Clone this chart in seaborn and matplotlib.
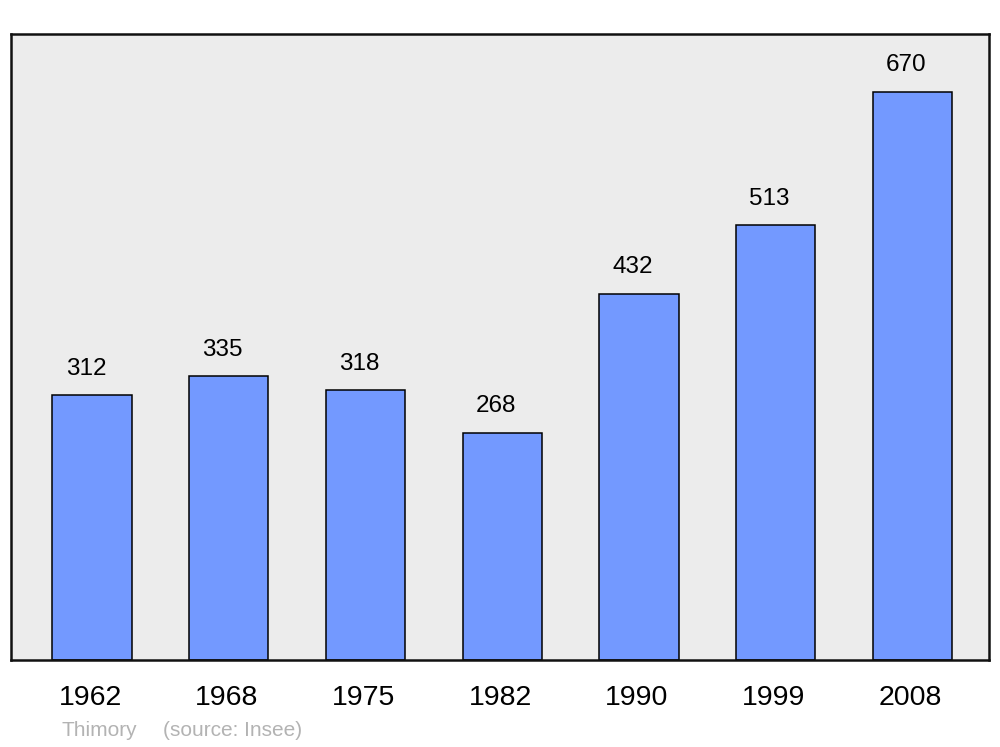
import pandas as pd
import matplotlib.pyplot as plt
import matplotlib.transforms as mtransforms
import seaborn as sns

years = ['1962', '1968', '1975', '1982', '1990', '1999', '2008']
population = [312, 335, 318, 268, 432, 513, 670]

sns.set_style('white')
plt.rcParams['font.family'] = ['Liberation Sans', 'DejaVu Sans']

df = pd.DataFrame({'year': years, 'pop': population})

fig = plt.figure(figsize=(10, 7.47), dpi=100)
ax = fig.add_axes([0.011, 0.1165, 0.978, 0.838])
ax.set_facecolor('#ececec')

sns.barplot(data=df, x='year', y='pop', color='#7399ff', saturation=1,
            width=0.58, edgecolor='black', linewidth=1.1, ax=ax)

# labels sit a little left of the bar centre in the original
for i, v in enumerate(population):
    ax.annotate(str(v), (i, v), xytext=(-4.5, 11), textcoords='offset points',
                ha='center', va='bottom', fontsize=17.5, color='black')

ax.set_xlim(-0.593, 6.56)
ax.set_ylim(0, 738)
ax.set_yticks([])
ax.set_xlabel('')
ax.set_ylabel('')
ax.tick_params(axis='x', length=0, pad=18, labelsize=20.5, labelcolor='black')
shift = mtransforms.ScaledTranslation(-2 / 100, 0, fig.dpi_scale_trans)
for lab in ax.get_xticklabels():
    lab.set_transform(lab.get_transform() + shift)
for s in ax.spines.values():
    s.set_visible(True)
    s.set_color('#111111')
    s.set_linewidth(1.8)

fig.text(0.061, (747 - 736) / 747, 'Thimory', fontsize=15, color='#b3b3b3',
         va='baseline')
fig.text(0.163, (747 - 736) / 747, '(source: Insee)', fontsize=15,
         color='#b3b3b3', va='baseline')

fig.savefig('out.png', dpi=100)
